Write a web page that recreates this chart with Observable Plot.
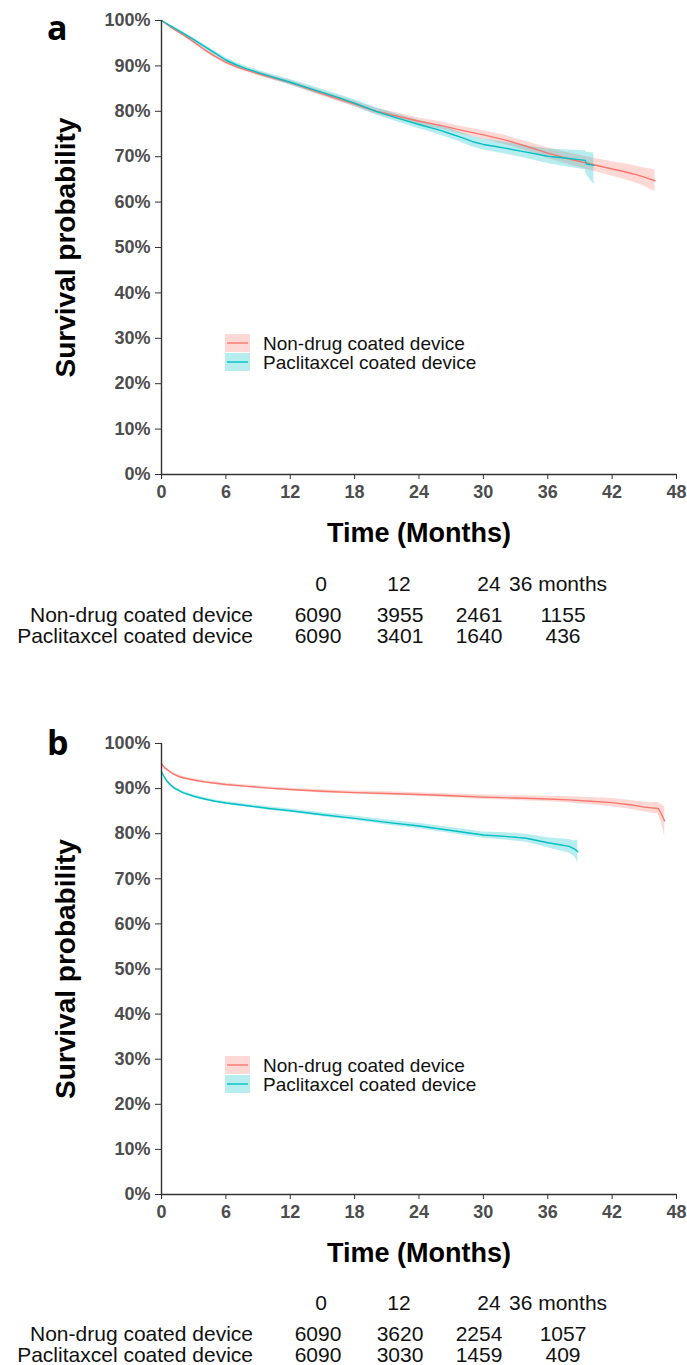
<!DOCTYPE html>
<html><head><meta charset="utf-8">
<script src="https://cdn.jsdelivr.net/npm/d3@7"></script>
<script src="https://cdn.jsdelivr.net/npm/@observablehq/plot@0.6"></script>
<style>
body{margin:0;background:#fff;}
#root{position:relative;width:687px;height:1365px;overflow:hidden;background:#fff;}
#root > svg{position:absolute;left:0;}
#root g[aria-label$="tick label"]{font-weight:bold;font-size:18px;fill:#4D4D4D;}
</style></head><body><div id="root"></div>
<script>
// ---------- data ----------
const groups = ["Non-drug coated device", "Paclitaxcel coated device"];
const colors = ["#F8766D", "#00BFC4"];
const timeTicks = [0, 6, 12, 18, 24, 30, 36, 42, 48];
const survTicks = [0, 10, 20, 30, 40, 50, 60, 70, 80, 90, 100];

// Panel a — Non-drug coated device
const aNonTime = [0,1,2,3,4,5,6,7,8,10,12,14,16,18,20,22,24,26,28,30,32,34,36,38,40,42,43,44,45,46];
const aNonSurv = [100,98.3,96.9,95.3,93.6,92.1,90.8,89.8,89.0,87.6,86.3,84.7,83.1,81.6,80.0,78.9,77.8,76.9,75.8,74.8,73.7,72.3,70.8,69.5,68.4,67.3,66.8,66.2,65.5,64.7];
const aNonLo   = [100,98.1,96.6,95.0,93.25,91.7,90.4,89.35,88.55,87.1,85.8,84.15,82.5,81.0,79.35,78.2,77.05,76.1,74.95,73.9,72.7,71.25,69.65,68.2,66.95,65.7,65.1,64.35,63.5,62.3];
const aNonHi   = [100,98.5,97.2,95.6,93.95,92.5,91.2,90.25,89.45,88.1,86.8,85.25,83.7,82.2,80.65,79.6,78.55,77.7,76.65,75.7,74.7,73.35,71.95,70.8,69.85,68.9,68.5,68.05,67.5,67.1];
// Panel a — Paclitaxel coated device
const aPacTime = [0,1,2,3,4,5,6,7,8,10,12,14,16,18,20,22,24,26,27,28,29,30,31,32,34,36,38,39.5,39.6,40.3];
const aPacSurv = [100,98.6,97.2,95.8,94.3,92.8,91.3,90.2,89.3,87.8,86.4,84.9,83.4,81.8,80.0,78.5,77.1,75.8,75.0,74.2,73.3,72.7,72.3,71.9,71.0,70.1,69.6,69.2,68.4,68.1];
const aPacLo   = [100,98.4,96.9,95.45,93.9,92.35,90.8,89.7,88.8,87.25,85.8,84.25,82.7,81.05,79.2,77.65,76.15,74.8,73.95,73.1,72.15,71.5,71.05,70.6,69.6,68.5,67.7,67.1,66.1,63.8];
const aPacHi   = [100,98.8,97.5,96.15,94.7,93.25,91.8,90.7,89.8,88.35,87.0,85.55,84.1,82.55,80.8,79.35,78.05,76.8,76.05,75.3,74.45,73.9,73.55,73.2,72.4,71.7,71.5,71.3,71.0,70.8];

// Panel b — Non-drug coated device
const bNonTime = [0,0.3,0.7,1,1.5,2,3,4,5,6,8,10,12,15,18,21,24,27,30,33,36,38,40,42,44,45,46.3,46.5,46.7,46.9];
const bNonSurv = [95.5,94.6,93.9,93.4,92.8,92.4,91.9,91.5,91.2,90.9,90.5,90.1,89.8,89.4,89.1,88.9,88.7,88.4,88.1,87.9,87.7,87.5,87.2,86.9,86.3,85.9,85.6,84.8,83.8,82.8];
const bNonLo   = [95.2,94.3,93.6,93.1,92.5,92.1,91.6,91.2,90.9,90.6,90.2,89.8,89.5,89.05,88.75,88.5,88.3,87.95,87.6,87.35,87.1,86.8,86.4,86.0,85.3,84.8,84.3,83.0,81.5,79.3];
const bNonHi   = [95.8,94.9,94.2,93.7,93.1,92.7,92.2,91.8,91.5,91.2,90.8,90.4,90.1,89.75,89.45,89.3,89.1,88.85,88.6,88.45,88.3,88.2,88.0,87.8,87.3,87.0,86.9,86.6,86.3,86.0];
// Panel b — Paclitaxel coated device
const bPacTime = [0,0.2,0.5,0.8,1.2,1.6,2,3,4,5,6,8,10,12,15,18,21,24,27,30,32,34,35,36,37,38,38.5,38.8];
const bPacSurv = [93.8,92.8,91.7,90.9,90.1,89.6,89.1,88.3,87.7,87.2,86.8,86.2,85.6,85.1,84.2,83.4,82.5,81.7,80.7,79.7,79.4,79.0,78.5,78.0,77.6,77.2,76.6,76.0];
const bPacLo   = [93.5,92.5,91.4,90.6,89.8,89.3,88.8,88.0,87.4,86.9,86.45,85.85,85.2,84.7,83.75,82.9,81.95,81.1,80.05,79.0,78.6,78.1,77.5,76.9,76.3,75.7,74.9,73.6];
const bPacHi   = [94.1,93.1,92.0,91.2,90.4,89.9,89.4,88.6,88.0,87.5,87.15,86.55,86.0,85.5,84.65,83.9,83.05,82.3,81.35,80.4,80.2,79.9,79.5,79.1,78.9,78.7,78.4,78.6];

// Numbers at risk
const riskHeader = ["0", "12", "24", "36 months"];
const aRiskNon = [6090, 3955, 2461, 1155];
const aRiskPac = [6090, 3401, 1640, 436];
const bRiskNon = [6090, 3620, 2254, 1057];
const bRiskPac = [6090, 3030, 1459, 409];

// ---------- build ----------
function rowsOf(group, t, s, lo, hi) {
  return t.map((d, i) => ({group, t: d, s: s[i], lo: lo[i], hi: hi[i]}));
}
const font = "'Liberation Sans', Arial, sans-serif";

function survPlot(rows, marginTop) {
  return Plot.plot({
    width: 687, height: 560,
    marginTop, marginBottom: 86, marginLeft: 161, marginRight: 11,
    style: {fontFamily: font, background: "transparent", overflow: "visible"},
    x: {domain: [0, 48]},
    y: {domain: [0, 100]},
    color: {domain: groups, range: colors},
    marks: [
      Plot.areaY(rows, {x: "t", y1: "lo", y2: "hi", fill: "group", fillOpacity: 0.28}),
      Plot.line(rows, {x: "t", y: "s", stroke: "group", strokeWidth: 1.4}),
      Plot.ruleX([0], {stroke: "#333", strokeWidth: 1.4}),
      Plot.ruleY([0], {stroke: "#333", strokeWidth: 1.4}),
      Plot.axisY({ticks: survTicks, tickFormat: d => d + "%", tickSize: 6, tickPadding: 5,
                  fontSize: 18, color: "#333", label: null}),
      Plot.axisX({ticks: timeTicks, tickFormat: d => String(d), tickSize: 5, tickPadding: 6,
                  fontSize: 18, color: "#333", label: null}),
      Plot.text(["Time (Months)"], {frameAnchor: "bottom", dy: 59, fontSize: 27, fontWeight: "bold",
                  fill: "black", lineAnchor: "middle", textAnchor: "middle", fontFamily: font}),
      Plot.text(["Survival probability"], {frameAnchor: "left", dx: -95, rotate: -90, fontSize: 28,
                  fontWeight: "bold", fill: "black", lineAnchor: "middle", textAnchor: "middle",
                  fontFamily: font})
    ]
  });
}

const root = document.getElementById("root");
const rowsA = rowsOf(groups[0], aNonTime, aNonSurv, aNonLo, aNonHi)
  .concat(rowsOf(groups[1], aPacTime, aPacSurv, aPacLo, aPacHi));
const rowsB = rowsOf(groups[0], bNonTime, bNonSurv, bNonLo, bNonHi)
  .concat(rowsOf(groups[1], bPacTime, bPacSurv, bPacLo, bPacHi));

const pa = survPlot(rowsA, 20); pa.style.top = "0px"; root.appendChild(pa);
const pb = survPlot(rowsB, 23); pb.style.top = "720px"; root.appendChild(pb);

// ---------- overlay: panel letters, legends, risk tables ----------
const ov = d3.select(root).append("svg")
  .attr("width", 687).attr("height", 1365)
  .style("position", "absolute").style("top", "0px").style("left", "0px")
  .style("pointer-events", "none");

function panel(letter, letterBase, legendTop, tableBase, riskNon, riskPac) {
  ov.append("text").attr("x", 47).attr("y", letterBase).text(letter)
    .attr("font-family", "'Open Sans', sans-serif").attr("font-weight", "bold")
    .attr("font-size", 34).attr("fill", "black");
  // legend
  groups.forEach((g, i) => {
    const top = legendTop + i * 19;
    ov.append("rect").attr("x", 225).attr("y", top).attr("width", 25).attr("height", 18)
      .attr("fill", colors[i]).attr("fill-opacity", 0.28);
    ov.append("line").attr("x1", 227).attr("x2", 248).attr("y1", top + 9).attr("y2", top + 9)
      .attr("stroke", colors[i]).attr("stroke-width", 1.4);
    ov.append("text").attr("x", 263).attr("y", top + 15.5).text(g)
      .attr("font-family", font).attr("font-size", 19).attr("fill", "#111");
  });
  // numbers at risk
  const hx = [321, 399, 489, 509], ha = ["middle", "middle", "middle", "start"];
  riskHeader.forEach((h, i) => {
    ov.append("text").attr("x", hx[i]).attr("y", tableBase).attr("text-anchor", ha[i]).text(h)
      .attr("font-family", font).attr("font-size", 21).attr("fill", "#111");
  });
  const cx = [318, 400, 479, 563];
  [riskNon, riskPac].forEach((vals, r) => {
    const y = tableBase + 31 + r * 20.5;
    ov.append("text").attr("x", 253).attr("y", y).attr("text-anchor", "end").text(groups[r])
      .attr("font-family", font).attr("font-size", 21).attr("fill", "#111");
    vals.forEach((v, i) => {
      ov.append("text").attr("x", cx[i]).attr("y", y).attr("text-anchor", "middle").text(v)
        .attr("font-family", font).attr("font-size", 21).attr("fill", "#111");
    });
  });
}
panel("a", 40, 334, 591, aRiskNon, aRiskPac);
panel("b", 755, 1056, 1310, bRiskNon, bRiskPac);
</script></body></html>
